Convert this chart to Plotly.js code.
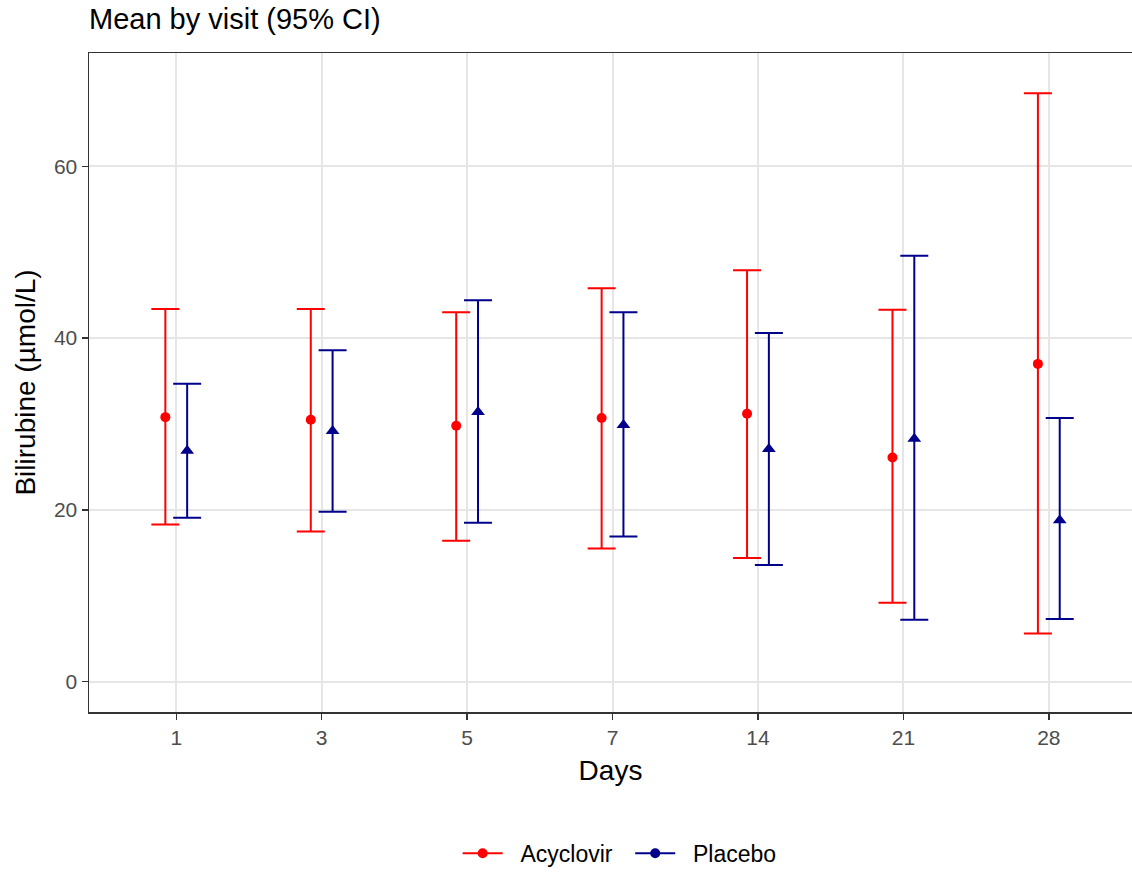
<!DOCTYPE html>
<html>
<head>
<meta charset="utf-8">
<script src="https://cdn.plot.ly/plotly-3.0.1.min.js"></script>
<style>html,body{margin:0;padding:0;background:#fff;}#chart{width:1132px;height:875px;}</style>
</head>
<body>
<div id="chart"></div>
<script>
const days = ['1', '3', '5', '7', '14', '21', '28'];
const acyMean  = [30.8, 30.5, 29.8, 30.7, 31.2, 26.1, 37.0];
const acyLower = [18.3, 17.5, 16.4, 15.5, 14.4, 9.2, 5.6];
const acyUpper = [43.4, 43.4, 43.0, 45.8, 47.9, 43.3, 68.5];
const plaMean  = [26.9, 29.2, 31.4, 29.9, 27.1, 28.3, 18.8];
const plaLower = [19.1, 19.8, 18.5, 16.9, 13.6, 7.2, 7.3];
const plaUpper = [34.7, 38.6, 44.4, 43.0, 40.6, 49.6, 30.7];
const yTicks = [0, 20, 40, 60];
const seriesNames = ['Acyclovir', 'Placebo'];

const dodge = 0.075;
const idx = days.map((d, i) => i);
const RED = '#FF0000', NAVY = '#00008B';
const FONT = 'Liberation Sans, Arial, sans-serif';
const NB = '\u00A0';

function errTrace(name, mean, lo, hi, off, color, symbol, size) {
  return {
    type: 'scatter', mode: 'markers', name: name, showlegend: false,
    x: idx.map(i => i + off), y: mean,
    marker: {color: color, symbol: symbol, size: size},
    error_y: {type: 'data', symmetric: false,
      array: hi.map((h, i) => h - mean[i]),
      arrayminus: lo.map((l, i) => mean[i] - l),
      color: color, thickness: 2, width: 14},
    hoverinfo: 'x+y'
  };
}
function legendTrace(name, color) {
  return {type: 'scatter', mode: 'lines+markers', name: NB + NB + name + NB + NB, x: [null], y: [null],
    line: {color: color, width: 2}, marker: {color: color, symbol: 'circle', size: 10}};
}

const data = [
  errTrace(seriesNames[0], acyMean, acyLower, acyUpper, -dodge, RED, 'circle', 10),
  errTrace(seriesNames[1], plaMean, plaLower, plaUpper, dodge, NAVY, 'triangle-up', 12),
  legendTrace(seriesNames[0], RED),
  legendTrace(seriesNames[1], NAVY)
];

const layout = {
  width: 1132, height: 875,
  margin: {l: 89, r: 0, t: 53, b: 160},
  paper_bgcolor: '#fff', plot_bgcolor: '#fff',
  font: {family: FONT, color: '#000'},
  title: {text: 'Mean by visit (95% CI)', font: {size: 29, color: '#000', family: FONT},
    x: 0, xref: 'paper', xanchor: 'left', y: 1 - 9 / 875, yref: 'container', yanchor: 'top', pad: {t: 0, b: 0, l: 0, r: 0}},
  xaxis: {
    range: [-0.6, 6.572], tickmode: 'array', tickvals: idx, ticktext: days,
    showgrid: true, gridcolor: '#E6E6E6', gridwidth: 2, zeroline: false,
    showline: true, mirror: true, linecolor: '#333333', linewidth: 1.5,
    ticks: 'outside', ticklen: 6, tickwidth: 1.5, tickcolor: '#333333',
    tickfont: {size: 21, color: '#4D4D4D', family: FONT},
    title: {text: 'Days', font: {size: 28, color: '#000', family: FONT}, standoff: 12}
  },
  yaxis: {
    range: [-3.53, 73.2], tickmode: 'array', tickvals: yTicks,
    showgrid: true, gridcolor: '#E6E6E6', gridwidth: 2, zeroline: false,
    showline: true, mirror: true, linecolor: '#333333', linewidth: 1.5,
    ticks: 'outside', ticklen: 6, tickwidth: 1.5, tickcolor: '#333333',
    tickfont: {size: 21, color: '#4D4D4D', family: FONT},
    title: {text: 'Bilirubine (µmol/L)', font: {size: 28, color: '#000', family: FONT}, standoff: 10}
  },
  legend: {orientation: 'h', x: 0.515, xanchor: 'center', y: -0.2145, yanchor: 'middle',
    font: {size: 23, color: '#000', family: FONT}, itemwidth: 40, bgcolor: 'rgba(0,0,0,0)'},
  showlegend: true
};

Plotly.newPlot('chart', data, layout, {displayModeBar: false, staticPlot: true});
</script>
</body>
</html>
